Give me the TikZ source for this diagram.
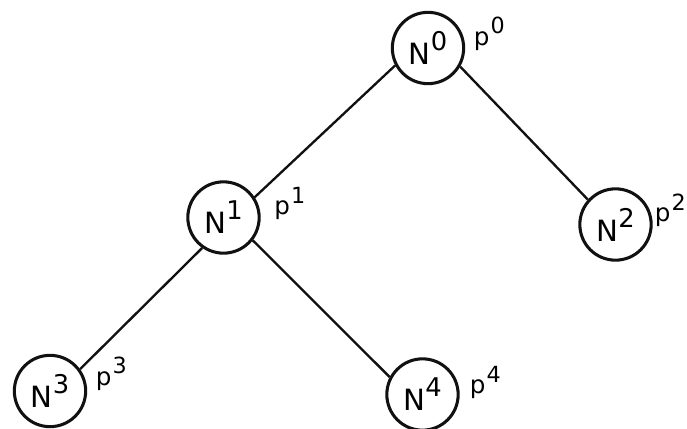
\documentclass[tikz,border=0pt]{standalone}
\usepackage{fontspec}
\setmainfont{DejaVu Sans}
\usetikzlibrary{positioning}
\definecolor{TreeInk}{HTML}{111111}
\newcommand{\nlab}[1]{N\raisebox{12pt}{\fontsize{22}{22}\selectfont #1}}
\newcommand{\plab}[1]{p\kern1pt\raisebox{10pt}{\fontsize{19}{19}\selectfont #1}}
\tikzset{vertex/.style={circle,draw=TreeInk,line width=2.6pt,minimum size=21.4mm,
inner sep=0pt,font=\fontsize{25}{25}\selectfont},
prob/.style={inner sep=0pt,anchor=base west,yshift=0.8mm,font=\fontsize{21}{21}\selectfont},
link/.style={line width=2pt,draw=TreeInk}}

\begin{document}
\begin{tikzpicture}[x=0.3mm,y=-0.3mm,node distance=3mm]
\useasboundingbox (0,0) rectangle (687,428);
\node[vertex](n0) at (428,48){\nlab{0}};
\node[vertex](n1) at (223.5,217.5){\nlab{1}};
\node[vertex](n2) at (615.5,224.5){\nlab{2}};
\node[vertex](n3) at (50,391){\nlab{3}};
\node[vertex](n4) at (422.5,394.5){\nlab{4}};
\node[right=2.5mm of n0.east,prob](p0){\plab{0}};
\node[right=4mm of n1.east,prob](p1){\plab{1}};
\node[right=0.6mm of n2.east,prob](p2){\plab{2}};
\node[right=2.5mm of n3.east,prob,yshift=0.8mm](p3){\plab{3}};
\node[right=of n4.east,prob,yshift=-0.6mm](p4){\plab{4}};
\draw[link](n0.208)--(n1.33);\draw[link](n0.330)--(n2.138);
\draw[link](n1.235)--(n3.36);\draw[link](n1.322)--(n4.152);
\end{tikzpicture}
\end{document}
